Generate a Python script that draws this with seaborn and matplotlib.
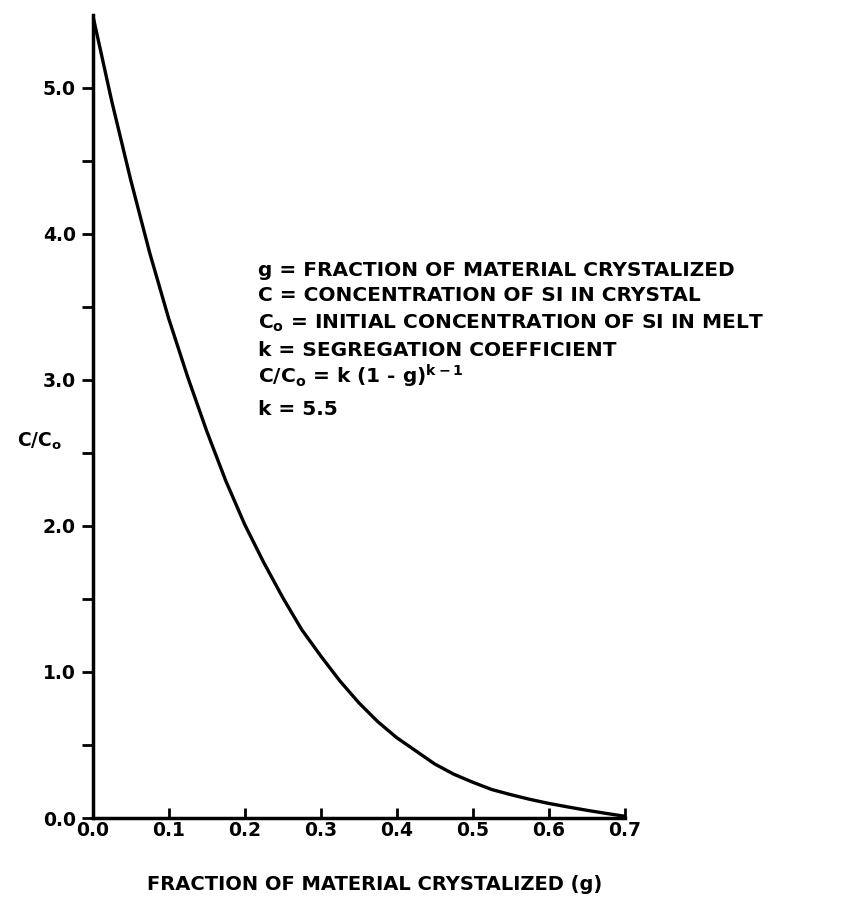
import seaborn as sns
import pandas as pd
import matplotlib.pyplot as plt

# DATA
g = [0.0, 0.025, 0.05, 0.075, 0.1, 0.125, 0.15, 0.175, 0.2, 0.225, 0.25, 0.275, 0.3, 0.325, 0.35,
     0.375, 0.4, 0.425, 0.45, 0.475, 0.5, 0.525, 0.55, 0.575, 0.6, 0.625, 0.65, 0.675, 0.7]
c_ratio = [5.5, 4.91, 4.37, 3.87, 3.42, 3.02, 2.65, 2.31, 2.01, 1.75, 1.51, 1.29, 1.11, 0.94, 0.79,
           0.66, 0.55, 0.46, 0.37, 0.30, 0.245, 0.195, 0.16, 0.128, 0.1, 0.076, 0.053, 0.032, 0.012]
x_ticks = [0.0, 0.1, 0.2, 0.3, 0.4, 0.5, 0.6, 0.7]
y_ticks = [0.0, 1.0, 2.0, 3.0, 4.0, 5.0]
y_minor = [0.5, 1.5, 2.5, 3.5, 4.5]
notes = ["g = FRACTION OF MATERIAL CRYSTALIZED",
         "C = CONCENTRATION OF SI IN CRYSTAL",
         "C$_o$ = INITIAL CONCENTRATION OF SI IN MELT",
         "k = SEGREGATION COEFFICIENT",
         "C/C$_o$ = k (1 - g)$^{k-1}$",
         "k = 5.5"]

df = pd.DataFrame({"g": g, "ratio": c_ratio})

# STYLE
sns.set_style("ticks")
plt.rcParams["font.family"] = ["DejaVu Sans"]
plt.rcParams["font.weight"] = "bold"
plt.rcParams["mathtext.fontset"] = "custom"
plt.rcParams["mathtext.bf"] = "DejaVu Sans:bold"
plt.rcParams["mathtext.rm"] = "DejaVu Sans:bold"
plt.rcParams["mathtext.default"] = "bf"
plt.rcParams["text.color"] = "black"
plt.rcParams["axes.labelcolor"] = "black"
plt.rcParams["xtick.color"] = "black"
plt.rcParams["ytick.color"] = "black"

fig = plt.figure(figsize=(8.5, 9.15), dpi=100)
ax = fig.add_axes([0.109, 0.106, 0.626, 0.878])

# CURVE
sns.lineplot(data=df, x="g", y="ratio", color="black", linewidth=2.4, ax=ax)

ax.set_xlim(0, 0.7)
ax.set_ylim(0, 5.5)
ax.set_xticks(x_ticks)
ax.set_xticklabels([f"{v:.1f}" for v in x_ticks], fontsize=13.5, fontweight="bold")
ax.set_yticks(y_ticks)
ax.set_yticklabels([f"{v:.1f}" for v in y_ticks], fontsize=13.5, fontweight="bold")
ax.set_yticks(y_minor, minor=True)
ax.tick_params(axis="x", direction="in", length=7, width=2, pad=2)
ax.tick_params(axis="y", direction="out", length=8, width=2, pad=4)
ax.tick_params(axis="y", which="minor", direction="out", length=8, width=2)

sns.despine(ax=ax)
for side in ["left", "bottom"]:
    ax.spines[side].set_linewidth(2.5)
    ax.spines[side].set_color("black")

# LABELS
ax.set_xlabel("FRACTION OF MATERIAL CRYSTALIZED (g)", fontsize=14, fontweight="bold")
ax.xaxis.set_label_coords(0.53, -0.071)
ax.set_ylabel("C/C$_o$", fontsize=13.5, fontweight="bold", rotation=0)
ax.yaxis.set_label_coords(-0.1, 0.455)

# NOTES
y_pos = [0.682, 0.650, 0.616, 0.582, 0.550, 0.508]
for txt, yp in zip(notes, y_pos):
    ax.text(0.31, yp, txt, transform=ax.transAxes, fontsize=14.5, fontweight="bold",
            va="center", ha="left")

plt.savefig("out.png", dpi=100)
